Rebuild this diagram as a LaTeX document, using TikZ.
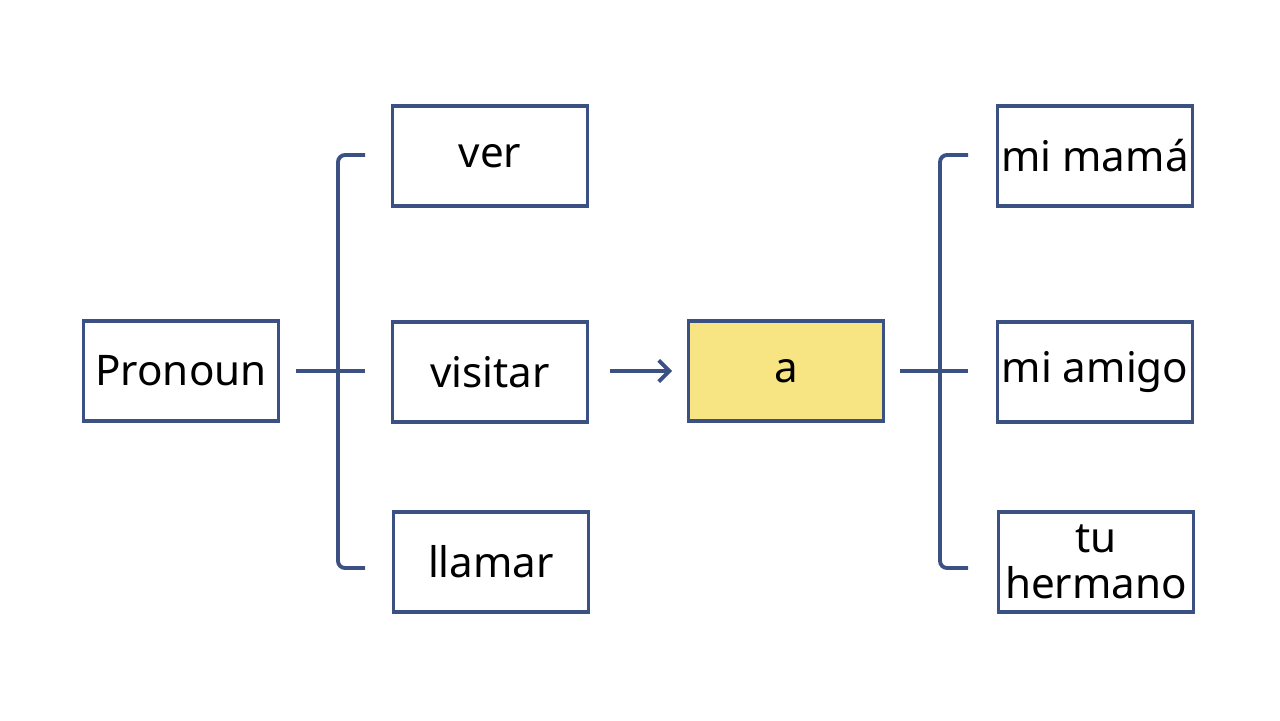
\documentclass[tikz,border=0pt]{standalone}
\usepackage{fontspec}
\setmainfont{Noto Sans}
\usepackage{tikz}
\usetikzlibrary{arrows.meta}
\definecolor{ink}{HTML}{3B5184}
\definecolor{hilite}{HTML}{F7E583}
\begin{document}
\begin{tikzpicture}[x=0.02cm, y=-0.02cm, line width = 2.2pt,
                    box/.style = {draw = ink, fill = white, minimum width = 3.9cm, minimum height = 2cm,
                                  inner xsep = 0pt, align = center, font = \fontsize{24}{26}\selectfont},
                    link/.style = {draw = ink, rounded corners = 4pt}]
      \useasboundingbox (0, 0) rectangle (1280, 720);

      \node [box] (pron) at (181, 371) {Pronoun};
      \node [box] (ver) at (490, 156) {ver};
      \node [box] (visitar) at (490, 372) {visitar};
      \node [box] (llamar) at (491, 562) {llamar};
      \node [box, fill = hilite] (a) at (786, 371) {a};
      \node [box] (mama) at (1095, 156) {mi mamá};
      \node [box] (amigo) at (1095, 372) {mi amigo};
      \node [box] (hermano) at (1096, 562) {tu\\hermano};

      \coordinate (l0) at (296, 371);
      \coordinate (l1) at (365, 155);
      \coordinate (l2) at (365, 371);
      \coordinate (l3) at (365, 568);
      \coordinate (r0) at (900, 371);
      \coordinate (r1) at (968, 155);
      \coordinate (r2) at (968, 371);
      \coordinate (r3) at (968, 568);

      \draw [link] (l1) -- (338, 155) -- (338, 568) -- (l3);
      \draw [link] (l0) -- (l2);
      \draw [link] (r1) -- (940, 155) -- (940, 568) -- (r3);
      \draw [link] (r0) -- (r2);
      \draw [ink, -{Straight Barb[length=6pt]}] (610, 371) -- (672, 371);
\end{tikzpicture}
\end{document}
